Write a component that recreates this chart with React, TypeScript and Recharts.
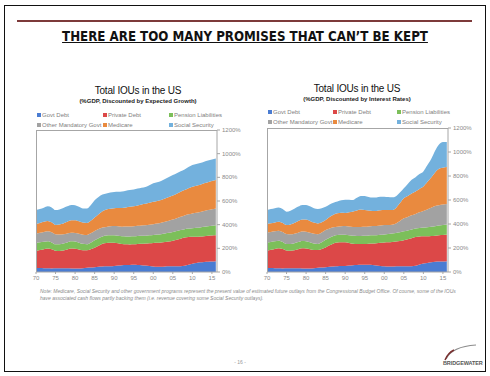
import React from "react";
import { AreaChart, Area, XAxis, YAxis } from "recharts";

// ---------------------------------------------------------------------------
// Data (% of GDP, values per layer)
// ---------------------------------------------------------------------------

const years = [
  1970, 1971, 1972, 1973, 1974, 1975, 1976, 1977, 1978, 1979, 1980, 1981,
  1982, 1983, 1984, 1985, 1986, 1987, 1988, 1989, 1990, 1991, 1992, 1993,
  1994, 1995, 1996, 1997, 1998, 1999, 2000, 2001, 2002, 2003, 2004, 2005,
  2006, 2007, 2008, 2009, 2010, 2011, 2012, 2013, 2014, 2015, 2016,
];

const govtDebt = [
  34, 33, 32, 31, 30, 31, 32, 32, 31, 30, 30, 30, 32, 35, 37, 40, 44, 46, 48,
  49, 51, 54, 57, 59, 60, 61, 60, 58, 55, 51, 47, 45, 45, 47, 48, 48, 48, 48,
  52, 62, 70, 76, 82, 85, 87, 88, 90,
];

const privateDebt = [
  144, 152, 160, 167, 162, 149, 146, 150, 159, 168, 166, 160, 152, 148, 155,
  165, 178, 192, 198, 199, 196, 188, 179, 175, 173, 173, 176, 180, 185, 192,
  199, 203, 205, 207, 210, 216, 224, 234, 240, 234, 227, 222, 218, 218, 219,
  220, 220,
];

const pensionLiabilities = [
  68, 66, 64, 62, 58, 54, 56, 58, 60, 61, 61, 58, 54, 51, 56, 63, 64, 63, 62,
  63, 64, 65, 66, 67, 68, 68, 68, 68, 67, 67, 67, 68, 70, 72, 74, 75, 74, 72,
  70, 71, 73, 75, 77, 79, 81, 83, 85,
];

// Discounted by expected growth
const otherGovtGrowth = [
  79, 81, 83, 85, 86, 85, 82, 78, 75, 73, 73, 75, 77, 79, 79, 79, 77, 75, 73,
  75, 77, 79, 81, 83, 84, 85, 86, 88, 89, 90, 91, 93, 96, 99, 102, 104, 108,
  112, 115, 120, 124, 127, 130, 133, 136, 139, 142,
];

const medicareGrowth = [
  79, 82, 85, 87, 84, 79, 85, 92, 99, 105, 108, 106, 103, 102, 106, 113, 125,
  138, 147, 149, 150, 154, 158, 162, 166, 169, 173, 177, 181, 185, 189, 191,
  192, 196, 200, 204, 208, 212, 215, 220, 226, 229, 231, 234, 236, 238, 240,
];

const socialSecurityGrowth = [
  119, 119, 120, 124, 126, 125, 128, 131, 131, 130, 126, 122, 118, 122, 132,
  147, 145, 140, 136, 137, 138, 138, 139, 140, 141, 142, 142, 142, 142, 148,
  156, 159, 161, 165, 169, 172, 173, 174, 175, 180, 184, 184, 183, 183, 183,
  183, 183,
];

// Discounted by interest rates
const otherGovtRates = [
  81, 82, 83, 84, 83, 82, 80, 79, 78, 78, 78, 79, 80, 80, 81, 81, 77, 72, 69,
  71, 72, 73, 74, 74, 75, 75, 76, 77, 77, 78, 78, 76, 74, 78, 92, 108, 113,
  118, 121, 130, 138, 148, 158, 168, 170, 171, 172,
];

const medicareRates = [
  73, 73, 74, 74, 75, 75, 82, 90, 97, 101, 103, 99, 94, 91, 86, 84, 95, 105,
  112, 111, 109, 118, 128, 138, 145, 140, 132, 125, 125, 126, 126, 124, 122,
  130, 150, 168, 175, 182, 187, 195, 204, 228, 252, 280, 303, 306, 307,
];

const socialSecurityRates = [
  117, 118, 119, 120, 116, 112, 115, 118, 120, 121, 121, 121, 120, 120, 117,
  110, 105, 100, 98, 104, 111, 104, 96, 105, 112, 117, 114, 112, 112, 113,
  110, 108, 106, 98, 88, 83, 100, 115, 120, 124, 126, 140, 154, 180, 203,
  215, 210,
];

const xTicks = [1970, 1975, 1980, 1985, 1990, 1995, 2000, 2005, 2010, 2015];
const xTickLabels = ["70", "75", "80", "85", "90", "95", "00", "05", "10", "15"];
const yTicks = [0, 200, 400, 600, 800, 1000, 1200];

// ---------------------------------------------------------------------------
// Series config
// ---------------------------------------------------------------------------

const SERIES = [
  { key: "govtDebt", name: "Govt Debt", color: "#4a7cd2" },
  { key: "privateDebt", name: "Private Debt", color: "#dc4848" },
  { key: "pension", name: "Pension Liabilities", color: "#7cbf5a" },
  { key: "otherGovt", name: "Other Mandatory Govt", color: "#a2a2a2" },
  { key: "medicare", name: "Medicare", color: "#e98a3f" },
  { key: "socialSecurity", name: "Social Security", color: "#73b1dd" },
];

function buildRows(other: number[], medicare: number[], social: number[]) {
  return years.map((year, i) => ({
    year,
    govtDebt: govtDebt[i],
    privateDebt: privateDebt[i],
    pension: pensionLiabilities[i],
    otherGovt: other[i],
    medicare: medicare[i],
    socialSecurity: social[i],
  }));
}

const growthRows = buildRows(otherGovtGrowth, medicareGrowth, socialSecurityGrowth);
const ratesRows = buildRows(otherGovtRates, medicareRates, socialSecurityRates);

const FONT = "'Liberation Sans', Arial, sans-serif";
const AXIS_GREY = "#a6a6a6";
const TICK_STYLE = { fill: "#8a8a8a", fontSize: 6, fontFamily: FONT };

// ---------------------------------------------------------------------------
// Pieces
// ---------------------------------------------------------------------------

interface PanelProps {
  data: ReturnType<typeof buildRows>;
  plotLeft: number;
  plotTop: number;
  plotWidth: number;
  plotHeight: number;
  titleX: number;
  titleY: number;
  subtitle: string;
  legendX: number[];
  legendY: number;
}

function Panel({
  data,
  plotLeft,
  plotTop,
  plotWidth,
  plotHeight,
  titleX,
  titleY,
  subtitle,
  legendX,
  legendY,
}: PanelProps) {
  const axisWidth = 30;
  const axisHeight = 14;
  const topPad = 5;
  const leftPad = 8;

  return (
    <>
      <div
        style={{
          position: "absolute",
          left: titleX - 100,
          top: titleY - 7,
          width: 200,
          textAlign: "center",
          fontFamily: FONT,
          fontSize: 10,
          color: "#111",
          letterSpacing: -0.2,
          lineHeight: "12px",
        }}
      >
        Total IOUs in the US
      </div>
      <div
        style={{
          position: "absolute",
          left: titleX - 100,
          top: titleY + 5,
          width: 200,
          textAlign: "center",
          fontFamily: FONT,
          fontSize: 6,
          fontWeight: 700,
          color: "#222",
          lineHeight: "8px",
        }}
      >
        {subtitle}
      </div>
      {SERIES.map((s, i) => (
        <div
          key={s.key}
          style={{
            position: "absolute",
            left: legendX[i % 3],
            top: legendY + Math.floor(i / 3) * 10 - 4,
            fontFamily: FONT,
            fontSize: 6,
            color: "#808080",
            lineHeight: "8px",
            whiteSpace: "nowrap",
            display: "flex",
            alignItems: "center",
          }}
        >
          <span
            style={{
              display: "inline-block",
              width: 4,
              height: 4,
              background: s.color,
              marginRight: 1,
            }}
          />
          {s.name}
        </div>
      ))}
      <div
        style={{
          position: "absolute",
          left: plotLeft - leftPad,
          top: plotTop - topPad,
        }}
      >
        <AreaChart
          width={plotWidth + axisWidth + leftPad}
          height={plotHeight + topPad + axisHeight}
          data={data}
          margin={{ top: topPad, right: 0, bottom: 0, left: leftPad }}
        >
          <XAxis
            dataKey="year"
            type="number"
            domain={[1970, 2016.3]}
            ticks={xTicks}
            tickFormatter={(v: number) => xTickLabels[xTicks.indexOf(v)] ?? ""}
            tick={TICK_STYLE}
            tickSize={2}
            tickMargin={2}
            height={axisHeight}
            stroke={AXIS_GREY}
            interval={0}
          />
          <YAxis
            orientation="right"
            domain={[0, 1200]}
            ticks={yTicks}
            tickFormatter={(v: number) => `${v}%`}
            tick={TICK_STYLE}
            tickSize={3}
            tickMargin={2}
            width={axisWidth}
            stroke={AXIS_GREY}
            interval={0}
          />
          {SERIES.map((s) => (
            <Area
              key={s.key}
              dataKey={s.key}
              name={s.name}
              stackId="iou"
              type="monotone"
              stroke="none"
              fill={s.color}
              fillOpacity={1}
              isAnimationActive={false}
            />
          ))}
        </AreaChart>
      </div>
      {/* plot frame: left and top edges */}
      <div
        style={{
          position: "absolute",
          left: plotLeft,
          top: plotTop,
          width: plotWidth,
          height: plotHeight,
          borderLeft: `1px solid ${AXIS_GREY}`,
          borderTop: `1px solid ${AXIS_GREY}`,
          boxSizing: "border-box",
          pointerEvents: "none",
        }}
      />
    </>
  );
}

function Logo() {
  return (
    <div style={{ position: "absolute", left: 440, top: 343, width: 46, height: 26 }}>
      <svg width={46} height={26}>
        <path d="M6 16 C 10 8, 20 3, 36 2" stroke="#8c8c8c" strokeWidth={1.2} fill="none" />
        <path d="M5 17 C 7 12, 10 9, 14 7" stroke="#7a2e2e" strokeWidth={1.4} fill="none" />
        <text
          x={3}
          y={22}
          fontFamily={FONT}
          fontSize={5.5}
          fontWeight={700}
          fill="#555"
          letterSpacing={-0.1}
        >
          BRIDGEWATER
        </text>
      </svg>
    </div>
  );
}

// ---------------------------------------------------------------------------
// Slide
// ---------------------------------------------------------------------------

export default function App() {
  return (
    <div
      style={{
        position: "absolute",
        left: 0,
        top: 0,
        width: 490,
        height: 376,
        background: "#fff",
        overflow: "hidden",
      }}
    >
      <div
        style={{
          position: "absolute",
          left: 4,
          top: 5,
          width: 482,
          height: 367,
          border: "1.5px solid #111",
          boxSizing: "border-box",
        }}
      />
      <div
        style={{
          position: "absolute",
          left: 17,
          top: 20,
          width: 455,
          height: 2,
          background: "#7d3a3a",
        }}
      />
      <div
        style={{
          position: "absolute",
          left: 0,
          top: 29,
          width: 490,
          textAlign: "center",
          fontFamily: "'DejaVu Sans Condensed', 'Liberation Sans', Arial, sans-serif",
          fontSize: 13.2,
          fontWeight: 700,
          textDecoration: "underline",
          color: "#111",
          lineHeight: "16px",
        }}
      >
        THERE ARE TOO MANY PROMISES THAT CAN’T BE KEPT
      </div>

      <Panel
        data={growthRows}
        plotLeft={36}
        plotTop={130}
        plotWidth={181}
        plotHeight={142}
        titleX={138}
        titleY={92}
        subtitle="(%GDP, Discounted by Expected Growth)"
        legendX={[37, 103, 169]}
        legendY={115}
      />
      <Panel
        data={ratesRows}
        plotLeft={267}
        plotTop={128}
        plotWidth={181}
        plotHeight={144}
        titleX={357}
        titleY={90}
        subtitle="(%GDP, Discounted by Interest Rates)"
        legendX={[268, 333, 397]}
        legendY={112}
      />

      <div
        style={{
          position: "absolute",
          left: 40,
          top: 288,
          width: 420,
          fontFamily: FONT,
          fontSize: 5,
          fontStyle: "italic",
          color: "#8a8a8a",
          lineHeight: "7px",
        }}
      >
        Note: Medicare, Social Security and other government programs represent the present value of
        estimated future outlays from the Congressional Budget Office. Of course, some of the IOUs have
        associated cash flows partly backing them (i.e. revenue covering some Social Security outlays).
      </div>

      <div
        style={{
          position: "absolute",
          left: 220,
          top: 359,
          width: 40,
          textAlign: "center",
          fontFamily: FONT,
          fontSize: 5,
          color: "#999",
        }}
      >
        - 16 -
      </div>
      <Logo />
    </div>
  );
}
